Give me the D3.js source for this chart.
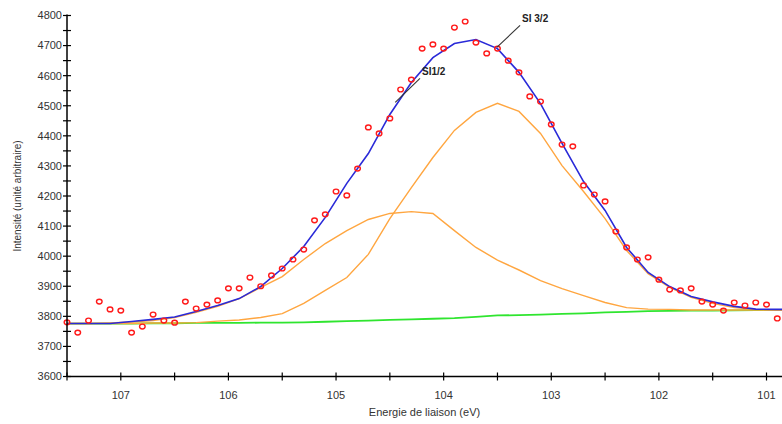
<!DOCTYPE html>
<html><head><meta charset="utf-8">
<script src="https://cdn.jsdelivr.net/npm/d3@7"></script>
<style>html,body{margin:0;padding:0;background:#fff;}svg{display:block;}</style>
</head><body>
<svg id="chart" width="782" height="424"></svg>
<script>
// Measured points (binding energy, intensity)
const pointEnergy = [107.5,107.4,107.3,107.2,107.1,107.0,106.9,106.8,106.7,106.6,106.5,106.4,106.3,106.2,106.1,106.0,105.9,105.8,105.7,105.6,105.5,105.4,105.3,105.2,105.1,105.0,104.9,104.8,104.7,104.6,104.5,104.4,104.3,104.2,104.1,104.0,103.9,103.8,103.7,103.6,103.5,103.4,103.3,103.2,103.1,103.0,102.9,102.8,102.7,102.6,102.5,102.4,102.3,102.2,102.1,102.0,101.9,101.8,101.7,101.6,101.5,101.4,101.3,101.2,101.1,101.0,100.9];
const pointIntensity = [3780,3746,3786,3849,3823,3819,3746,3766,3806,3786,3779,3849,3826,3839,3853,3893,3893,3929,3900,3936,3959,3989,4022,4119,4139,4215,4202,4291,4428,4408,4458,4554,4587,4690,4704,4690,4760,4780,4710,4674,4690,4650,4611,4531,4514,4438,4371,4365,4235,4205,4182,4082,4029,3989,3996,3922,3889,3886,3893,3849,3839,3819,3846,3836,3846,3839,3793];

// Fit curves on a common energy grid
const fitEnergy = [107.5,107.3,107.1,106.9,106.7,106.5,106.3,106.1,105.9,105.7,105.5,105.3,105.1,104.9,104.7,104.5,104.3,104.1,103.9,103.7,103.5,103.3,103.1,102.9,102.7,102.5,102.3,102.1,101.9,101.7,101.5,101.3,101.1,100.9,100.85];
const envelope = [3776,3776,3776,3783,3790,3798,3816,3836,3859,3899,3959,4032,4129,4242,4341,4471,4577,4660,4707,4720,4690,4611,4507,4375,4248,4152,4029,3946,3899,3866,3848,3833,3824,3823,3823];
const peakSi12 = [3776,3776,3778,3781,3786,3796,3813,3833,3859,3896,3932,3989,4042,4085,4122,4142,4148,4142,4085,4029,3987,3954,3919,3892,3869,3846,3829,3824,3823,3821,3821,3821,3821,3821,3821];
const peakSi32 = [3776,3776,3776,3776,3778,3778,3779,3784,3788,3796,3809,3843,3886,3929,4006,4125,4228,4328,4418,4478,4508,4481,4408,4301,4215,4125,4019,3942,3896,3863,3843,3829,3823,3821,3821];
const background = [3776,3776,3776,3776,3777,3777,3778,3778,3778,3779,3779,3780,3782,3784,3786,3788,3790,3792,3794,3798,3803,3804,3806,3808,3810,3813,3815,3817,3818,3819,3819,3820,3821,3821,3821];

const yTicks = [3600,3700,3800,3900,4000,4100,4200,4300,4400,4500,4600,4700,4800];
const xTicks = [107,106,105,104,103,102,101];
const xLabel = "Energie de liaison (eV)";
const yLabel = "Intensité  (unité arbitraire)";
const annotations = [
  {text:"SI1/2", e:104.45, v:4511, te:104.22, tv:4591},
  {text:"SI 3/2", e:103.506, v:4694, te:103.29, tv:4767}
];

const svg = d3.select("#chart");
const L = 67, R = 782, T = 15.5, B = 376.5;
const x = d3.scaleLinear().domain([107.5, 100.856]).range([L, R]);
const y = d3.scaleLinear().domain([3600, 4800]).range([B, T]);

const font = "'Liberation Sans', Arial, sans-serif";

const defs = svg.append("defs");
defs.append("clipPath").attr("id","clip").append("rect")
  .attr("x", L).attr("y", 0).attr("width", R - L).attr("height", B);

const plot = svg.append("g").attr("clip-path","url(#clip)");
const line = (vals) => d3.line().x((d,i)=>x(fitEnergy[i])).y(d=>y(d))(vals);

plot.append("path").attr("d", line(background)).attr("fill","none").attr("stroke","#2fe52f").attr("stroke-width",1.8);
plot.append("path").attr("d", line(peakSi12)).attr("fill","none").attr("stroke","#ffa640").attr("stroke-width",1.4);
plot.append("path").attr("d", line(peakSi32)).attr("fill","none").attr("stroke","#ffa640").attr("stroke-width",1.4);
plot.append("path").attr("d", line(envelope)).attr("fill","none").attr("stroke","#2a2ad8").attr("stroke-width",1.6);

svg.append("g").selectAll("ellipse").data(pointEnergy).join("ellipse")
  .attr("cx",(d)=>x(d)).attr("cy",(d,i)=>y(pointIntensity[i]))
  .attr("rx",2.8).attr("ry",2.4)
  .attr("fill","none").attr("stroke","#ff1a1a").attr("stroke-width",1.4);

// annotations
annotations.forEach(a => {
  svg.append("line").attr("x1",x(a.e)).attr("y1",y(a.v)).attr("x2",x(a.te)).attr("y2",y(a.tv))
    .attr("stroke","#333").attr("stroke-width",1.1);
  svg.append("text").attr("x",x(a.te)+2).attr("y",y(a.tv)-3)
    .attr("font-family",font).attr("font-size",10).attr("font-weight","bold").attr("fill","#222")
    .text(a.text);
});

// Y axis
const yAxis = svg.append("g");
yAxis.append("line").attr("x1",L).attr("x2",L).attr("y1",T-1).attr("y2",B).attr("stroke","#000").attr("stroke-width",1.5);
const yMinor = d3.range(3600, 4801, 50);
yAxis.selectAll("line.t").data(yMinor).join("line").attr("class","t")
  .attr("x1",L-4).attr("x2",L+4).attr("y1",d=>y(d)).attr("y2",d=>y(d))
  .attr("stroke","#000").attr("stroke-width",1.2);
yAxis.selectAll("text").data(yTicks).join("text")
  .attr("x",L-5).attr("y",d=>y(d)).attr("dy","0.35em").attr("text-anchor","end")
  .attr("font-family",font).attr("font-size",11).attr("fill","#333").text(d=>d);

// X axis
const xAxis = svg.append("g");
xAxis.append("line").attr("x1",L).attr("x2",R).attr("y1",B).attr("y2",B).attr("stroke","#000").attr("stroke-width",1.5);
const xMinor = d3.range(107.5, 100.8, -0.5);
xAxis.selectAll("line.t").data(xMinor).join("line").attr("class","t")
  .attr("x1",d=>x(d)).attr("x2",d=>x(d)).attr("y1",B-4).attr("y2",B+4)
  .attr("stroke","#000").attr("stroke-width",1.2);
xAxis.selectAll("text").data(xTicks).join("text")
  .attr("x",d=>x(d)).attr("y",B+22).attr("text-anchor","middle")
  .attr("font-family",font).attr("font-size",11).attr("fill","#333").text(d=>d);

svg.append("text").attr("x",(L+R)/2).attr("y",416).attr("text-anchor","middle")
  .attr("font-family",font).attr("font-size",11).attr("fill","#333").text(xLabel);
svg.append("text").attr("transform",`translate(21,${(T+B)/2}) rotate(-90)`).attr("text-anchor","middle")
  .attr("font-family",font).attr("font-size",10).attr("fill","#333").text(yLabel);
</script>
</body></html>
